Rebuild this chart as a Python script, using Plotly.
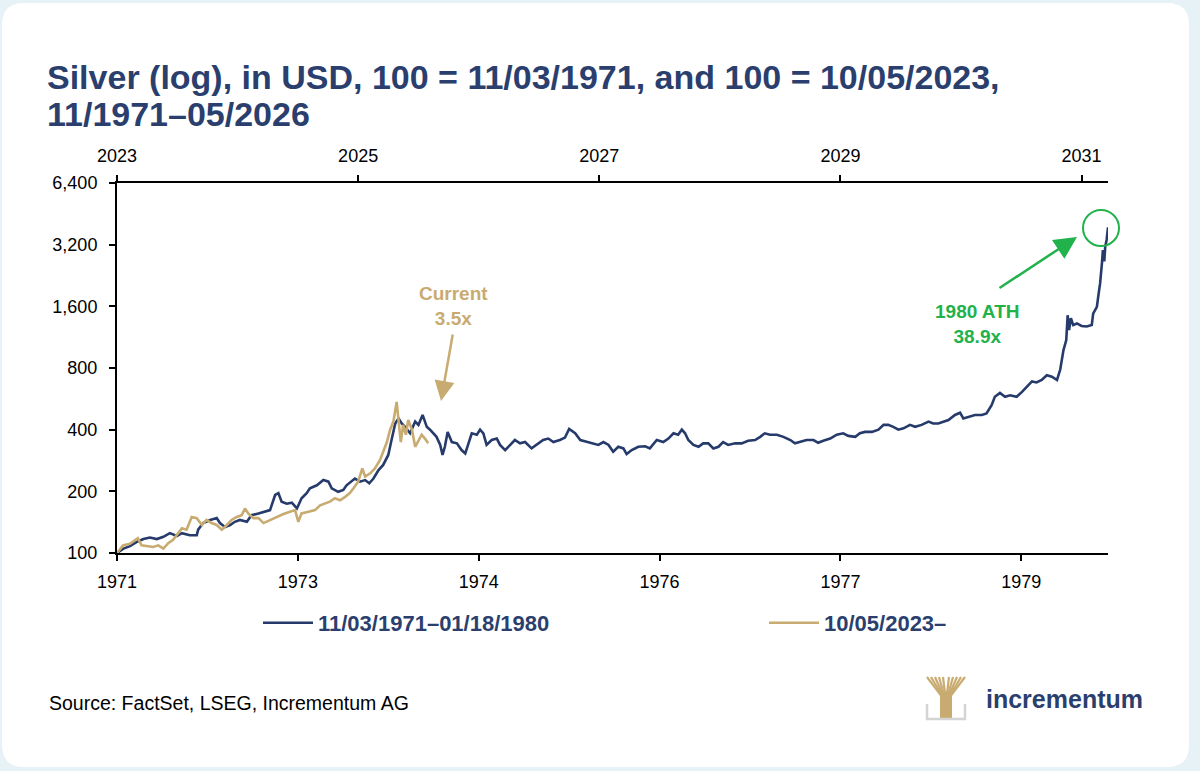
import plotly.graph_objects as go
import math

# ---------------- data ----------------
# x = trading-day index from series start; y = index level (100 = start)
dark_x = [0, 14, 28, 42, 57, 71, 86, 100, 114, 129, 140, 157, 172, 175, 186, 201, 215, 222, 233, 244,
          254, 265, 280, 290, 305, 319, 330, 341, 348, 355, 366, 377, 388, 398, 409, 416, 431, 445, 456, 463,
          477, 488, 495, 513, 524, 535, 544, 553, 564, 574, 585, 592, 600, 607, 614, 621, 632, 643, 650, 659,
          668, 675, 682, 689, 697, 702, 707, 713, 722, 733, 743, 751, 758, 765, 776, 783, 790, 797, 808, 819,
          826, 837, 848, 858, 869, 880, 894, 905, 919, 930, 941, 955, 966, 975, 988, 999, 1013, 1027, 1038, 1049,
          1060, 1070, 1081, 1092, 1099, 1110, 1124, 1139, 1149, 1164, 1178, 1189, 1200, 1210, 1218, 1225, 1232,
          1243, 1254, 1264, 1275, 1286, 1297, 1307, 1318, 1333, 1347, 1361, 1376, 1387, 1397, 1408, 1423, 1437,
          1452, 1462, 1473, 1487, 1502, 1512, 1523, 1538, 1552, 1566, 1577, 1592, 1602, 1613, 1628, 1642, 1653,
          1663, 1674, 1685, 1696, 1710, 1721, 1735, 1750, 1760, 1771, 1782, 1793, 1807, 1818, 1825, 1836, 1850,
          1865, 1875, 1886, 1893, 1904, 1915, 1926, 1940, 1951, 1962, 1973, 1983, 1994, 2005, 2016, 2027, 2034,
          2041, 2047, 2050, 2053, 2057, 2062, 2070, 2080, 2091, 2102, 2105, 2113, 2116, 2120, 2124, 2126, 2129,
          2131, 2134, 2137]
dark_y = [100, 105, 108, 113, 117, 119, 117, 120, 125, 121, 125, 122, 122, 130, 140, 145, 148, 140, 134, 137,
          142, 145, 142, 153, 156, 159, 162, 192, 196, 178, 174, 176, 165, 185, 196, 207, 214, 227, 223, 207,
          199, 203, 214, 231, 223, 227, 219, 231, 254, 269, 301, 356, 429, 454, 429, 413, 384, 438, 422, 472,
          413, 400, 384, 369, 337, 301, 330, 390, 348, 343, 318, 306, 343, 384, 378, 400, 384, 337, 356, 362,
          337, 318, 337, 356, 343, 348, 324, 337, 356, 362, 348, 356, 366, 403, 384, 356, 348, 343, 337, 348,
          337, 312, 330, 324, 304, 318, 330, 332, 324, 356, 348, 362, 384, 378, 400, 384, 356,
          337, 330, 343, 343, 324, 330, 348, 337, 343, 343, 353, 356, 369, 384, 378, 378, 369,
          356, 343, 348, 356, 356, 345, 353, 362, 378, 384, 373, 369, 384, 390, 390, 400, 422,
          422, 413, 400, 406, 422, 413, 422, 438, 429, 429, 438, 446, 472, 484, 454, 463, 472,
          472, 480, 527, 579, 605, 579, 589, 579, 610, 650, 688, 680, 699, 737, 725, 699, 786,
          979, 1096, 1448, 1226, 1400, 1296, 1320, 1283, 1275, 1296, 1475, 1590, 1790, 2075, 2605, 3013, 2650,
          3130, 3375, 3890]

gold_x = [0, 13, 28, 39, 45, 53, 68, 78, 89, 100, 111, 121, 132, 140, 150, 161, 172, 183, 193, 204,
          215, 226, 237, 247, 258, 269, 276, 283, 294, 305, 316, 330, 344, 359, 373, 384, 391, 398, 413, 427,
          438, 449, 459, 470, 481, 492, 502, 510, 520, 529, 535, 546, 556, 567, 574, 582, 589, 596, 603, 608,
          612, 617, 623, 628, 636, 643, 650, 657, 664, 671]
gold_y = [100, 109, 111, 116, 118, 109, 108, 107, 109, 105, 112, 116, 125, 132, 130, 150, 148, 137, 145, 140,
          137, 130, 137, 145, 150, 153, 165, 156, 148, 148, 140, 145, 150, 155, 159, 162, 142, 156, 159, 162,
          171, 174, 178, 185, 181, 188, 196, 207, 223, 259, 236, 245, 259, 284, 312, 348, 400, 438, 546, 429,
          348, 422, 378, 446, 400, 330, 356, 378, 362, 343]

bottom_tickvals = [0, 390, 780, 1170, 1560, 1950]
bottom_ticktext = ["1971", "1973", "1974", "1976", "1977", "1979"]
top_tickvals = [0, 520, 1040, 1560, 2080]
top_ticktext = ["2023", "2025", "2027", "2029", "2031"]
y_tickvals = [100, 200, 400, 800, 1600, 3200, 6400]
y_ticktext = ["100", "200", "400", "800", "1,600", "3,200", "6,400"]

dark_name = "11/03/1971–01/18/1980"
gold_name = "10/05/2023–"

# ---------------- style ----------------
NAVY = "#263b6b"
NAVY_TXT = "#2b3f6e"
GOLD = "#c8ab70"
GREEN = "#22b24c"
OUTER = "#e6f2f5"
FONT = "Liberation Sans, Arial, sans-serif"

W, H = 1200, 771
L, R, T, B = 117, 92, 183, 218
PW, PH = W - L - R, H - T - B


def px(X):
    return (X - L) / PW


def py(Y):
    return (H - B - Y) / PH


fig = go.Figure()
fig.add_trace(go.Scatter(x=dark_x, y=dark_y, mode="lines", name=dark_name, legend="legend",
                         line=dict(color=NAVY, width=2.6), xaxis="x", yaxis="y"))
fig.add_trace(go.Scatter(x=gold_x, y=gold_y, mode="lines", name=gold_name, legend="legend2",
                         line=dict(color=GOLD, width=2.6), xaxis="x2", yaxis="y"))

axis_common = dict(showgrid=False, zeroline=False, showline=True, linecolor="black", linewidth=2,
                   ticks="outside", ticklen=6, tickwidth=1.5, tickcolor="black",
                   tickfont=dict(family=FONT, size=18, color="black"))
fig.update_layout(
    xaxis=dict(range=[0, 2137], tickvals=bottom_tickvals, ticktext=bottom_ticktext,
               ticklabelstandoff=5, **axis_common),
    xaxis2=dict(range=[0, 2137], tickvals=top_tickvals, ticktext=top_ticktext, overlaying="x",
                side="top", anchor="y", ticklabelstandoff=6, **axis_common),
    yaxis=dict(type="log", range=[2, math.log10(6400)], tickvals=y_tickvals, ticktext=y_ticktext,
               ticklabelstandoff=8, **axis_common),
)

# rounded white card
def card_path(x0, y0, x1, y1, r):
    pts = [
        ("M", px(x0 + r), py(y0)), ("L", px(x1 - r), py(y0)),
        ("Q", px(x1), py(y0), px(x1), py(y0 + r)), ("L", px(x1), py(y1 - r)),
        ("Q", px(x1), py(y1), px(x1 - r), py(y1)), ("L", px(x0 + r), py(y1)),
        ("Q", px(x0), py(y1), px(x0), py(y1 - r)), ("L", px(x0), py(y0 + r)),
        ("Q", px(x0), py(y0), px(x0 + r), py(y0)),
    ]
    s = ""
    for p in pts:
        s += p[0] + " " + " ".join(f"{v:.5f}" for v in p[1:]) + " "
    return s + "Z"

shapes = [dict(type="path", xref="paper", yref="paper", path=card_path(2, 3, 1189, 767, 22),
               fillcolor="white", line=dict(width=0), layer="below")]
# ATH circle
shapes.append(dict(type="circle", xref="paper", yref="paper", x0=px(1083), x1=px(1119),
                   y0=py(246), y1=py(210), line=dict(color=GREEN, width=2)))
# logo icon (tree)
for xt in [927, 931, 935, 939, 943, 949, 953, 957, 961, 965]:
    shapes.append(dict(type="line", xref="paper", yref="paper", x0=px(946), y0=py(702),
                       x1=px(xt), y1=py(677), line=dict(color=GOLD, width=2.2)))
shapes.append(dict(type="rect", xref="paper", yref="paper", x0=px(940), x1=px(952), y0=py(719),
                   y1=py(695), fillcolor=GOLD, line=dict(width=0)))
shapes.append(dict(type="path", xref="paper", yref="paper",
                   path=f"M {px(927)} {py(704)} L {px(927)} {py(719)} L {px(965)} {py(719)} L {px(965)} {py(704)}",
                   line=dict(color="#d4d4d4", width=2.5)))

ann = []
ann.append(dict(xref="paper", yref="paper", x=px(45), y=py(77), xanchor="left", yanchor="middle",
                text="<b>Silver (log), in USD, 100 = 11/03/1971, and 100 = 10/05/2023,</b>", showarrow=False,
                font=dict(family=FONT, size=34, color=NAVY_TXT)))
ann.append(dict(xref="paper", yref="paper", x=px(45), y=py(114), xanchor="left", yanchor="middle",
                text="<b>11/1971–05/2026</b>", showarrow=False,
                font=dict(family=FONT, size=34, color=NAVY_TXT)))
ann.append(dict(xref="paper", yref="paper", x=px(453), y=py(306), xanchor="center", yanchor="middle",
                text="<b>Current<br>3.5x</b>", showarrow=False,
                font=dict(family=FONT, size=19, color=GOLD)))
ann.append(dict(xref="paper", yref="paper", x=px(441), y=py(401), text="", showarrow=True,
                ax=12, ay=-68, arrowhead=2, arrowsize=1.6, arrowwidth=2.5, arrowcolor=GOLD))
ann.append(dict(xref="paper", yref="paper", x=px(977), y=py(324), xanchor="center", yanchor="middle",
                text="<b>1980 ATH<br>38.9x</b>", showarrow=False,
                font=dict(family=FONT, size=19, color=GREEN)))
ann.append(dict(xref="paper", yref="paper", x=px(1077), y=py(237), text="", showarrow=True,
                ax=-79, ay=52, arrowhead=2, arrowsize=1.8, arrowwidth=2.5, arrowcolor=GREEN))
ann.append(dict(xref="paper", yref="paper", x=px(47), y=py(703), xanchor="left", yanchor="middle",
                text="Source: FactSet, LSEG, Incrementum AG", showarrow=False,
                font=dict(family=FONT, size=19.5, color="black")))
ann.append(dict(xref="paper", yref="paper", x=px(984), y=py(699), xanchor="left", yanchor="middle",
                text="<b>incrementum</b>", showarrow=False,
                font=dict(family=FONT, size=25, color=NAVY_TXT)))

leg_common = dict(orientation="h", yanchor="middle", xanchor="left", bgcolor="rgba(0,0,0,0)",
                  itemwidth=50, font=dict(family=FONT, size=22, color=NAVY_TXT, weight="bold"))
fig.update_layout(
    width=W, height=H, margin=dict(l=L, r=R, t=T, b=B, pad=0),
    paper_bgcolor=OUTER, plot_bgcolor="rgba(0,0,0,0)",
    shapes=shapes, annotations=ann, showlegend=True,
    legend=dict(x=px(258), y=py(623), **leg_common),
    legend2=dict(x=px(764), y=py(623), **leg_common),
    hovermode=False,
)

fig.write_html("out.html")
